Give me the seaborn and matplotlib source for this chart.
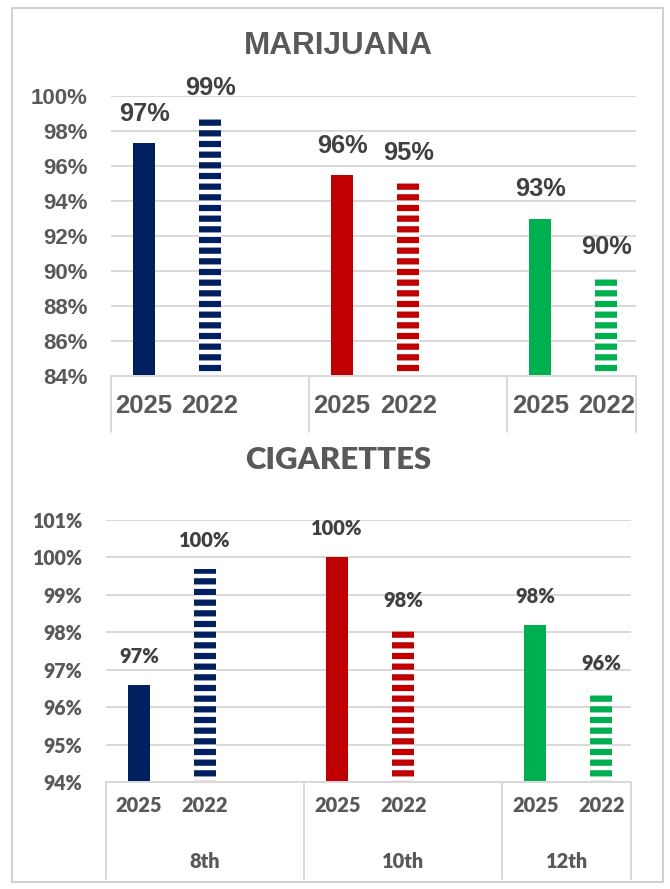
import matplotlib
matplotlib.use("Agg")
import matplotlib.pyplot as plt
import seaborn as sns
import pandas as pd
from matplotlib import font_manager
from matplotlib.patches import Rectangle

# ---------------- data ----------------
grades = ["8th", "10th", "12th"]
years = ["2025", "2022"]
marijuana_values = [97.3, 98.8, 95.5, 95.1, 93.0, 89.7]
marijuana_labels = ["97%", "99%", "96%", "95%", "93%", "90%"]
cigarettes_values = [96.6, 99.7, 100.0, 98.1, 98.2, 96.4]
cigarettes_labels = ["97%", "100%", "100%", "98%", "98%", "96%"]
grade_colors = ["#002060", "#C00000", "#00B050"]

# ---------------- style ----------------
DPI = 64
sns.set_theme(style="white")
names = {f.name for f in font_manager.fontManager.ttflist}
ARIAL = "Liberation Sans" if "Liberation Sans" in names else "DejaVu Sans"
NARROW = "Liberation Sans Narrow" if "Liberation Sans Narrow" in names else ARIAL
CALIBRI = "Lato" if "Lato" in names else ARIAL
plt.rcParams["font.family"] = [ARIAL, "DejaVu Sans"]
plt.rcParams["hatch.linewidth"] = 7.0

TXT = "#595959"
LBL = "#404040"
GRID = "#D9D9D9"
PX = 72.0 / DPI  # points per pixel

# slot layout: two bars per grade plus a gap slot
slots = []
for i, g in enumerate(grades):
    for y in years:
        slots.append(f"{g} {y}")
    if i < len(grades) - 1:
        slots.append(f"gap{i}")
bar_slots = [s for s in slots if not s.startswith("gap")]
palette = {f"{g} {y}": c for g, c in zip(grades, grade_colors) for y in years}

fig = plt.figure(figsize=(670 / DPI, 889 / DPI), dpi=DPI)
W, H = 670.0, 889.0


def make_panel(values, labels, rect, ylim, yticks, title, title_y, font, weight,
               sizes, tick_pad, xlab_pad, sep_depth, group_label_y=None,
               title_font=None, title_size=None):
    left, top_px, right_px, bottom_px = rect
    ax = fig.add_axes([left / W, 1 - bottom_px / H, (right_px - left) / W,
                       (bottom_px - top_px) / H])
    df = pd.DataFrame({"slot": bar_slots, "value": values})
    sns.barplot(data=df, x="slot", y="value", hue="slot", order=slots,
                palette=palette, width=22 / 66, saturation=1, legend=False,
                ax=ax, linewidth=0)
    ax.set_xlim(-0.5, 7.45)
    ax.set_ylim(*ylim)
    ax.set_axisbelow(True)
    ax.set_yticks(yticks)
    ax.set_yticklabels([f"{v}%" for v in yticks], fontfamily=font,
                       fontsize=sizes["ytick"], fontweight=weight, color=TXT)
    ax.yaxis.grid(True, color=GRID, lw=2 * PX)
    ax.xaxis.grid(False)
    ax.tick_params(axis="y", length=0, pad=tick_pad)
    for s in ["top", "right", "left"]:
        ax.spines[s].set_visible(False)
    ax.spines["bottom"].set_color(GRID)
    ax.spines["bottom"].set_linewidth(2 * PX)
    pos = [slots.index(s) for s in bar_slots]
    ax.set_xticks(pos)
    ax.set_xticklabels([s.split()[1] for s in bar_slots], fontfamily=font,
                       fontsize=sizes["xtick"], fontweight=weight, color=TXT)
    ax.tick_params(axis="x", length=0, pad=xlab_pad)
    ax.set_xlabel("")
    ax.set_ylabel("")

    # striped 2022 bars + data labels
    for p in ax.patches:
        idx = int(round(p.get_x() + p.get_width() / 2))
        name = slots[idx]
        col = palette[name]
        if name.endswith("2022"):
            p.set_facecolor("white")
            p.set_edgecolor(col)
            p.set_hatch("-")
            p.set_linewidth(0)
        k = bar_slots.index(name)
        ax.annotate(labels[k], (idx, values[k]), xytext=(0, 22 * PX),
                    textcoords="offset points", ha="center", va="baseline",
                    fontfamily=font, fontsize=sizes["label"], fontweight=weight,
                    color=LBL, annotation_clip=False)

    # multi-level axis separators
    trans = ax.get_xaxis_transform()
    hpx = bottom_px - top_px
    for x in [-0.5, 2.5, 5.5, 7.45]:
        ax.plot([x, x], [0, -sep_depth / hpx], transform=trans, color=GRID,
                lw=2 * PX, clip_on=False)
    if group_label_y is not None:
        centers = [1, 4, (5.5 + 7.45) / 2]
        for g, cx in zip(grades, centers):
            ax.text(cx, -group_label_y / hpx, g, transform=trans, ha="center",
                    va="center", fontfamily=font, fontsize=sizes["xtick"],
                    fontweight=weight, color=TXT)
    fig.text(338 / W, 1 - title_y / H, title, ha="center", va="center",
             fontfamily=title_font or font, fontsize=title_size,
             fontweight=weight, color=TXT)
    return ax


title_size_top = 42.5 if NARROW != ARIAL else 35.5
make_panel(marijuana_values, marijuana_labels, (111, 96, 636, 376), (84, 100),
           list(range(84, 101, 2)), "MARIJUANA", 46, ARIAL, "bold",
           {"ytick": 25, "xtick": 29, "label": 28.5}, tick_pad=23 * PX,
           xlab_pad=18 * PX, sep_depth=56, title_font=NARROW,
           title_size=title_size_top)

make_panel(cigarettes_values, cigarettes_labels, (106, 520, 631, 782), (94, 101),
           list(range(94, 102)), "CIGARETTES", 460, CALIBRI, "heavy",
           {"ytick": 22, "xtick": 22.5, "label": 22.5}, tick_pad=24 * PX,
           xlab_pad=14 * PX, sep_depth=97, group_label_y=80, title_size=35)

fig.patches.append(Rectangle((12 / W, 1 - 882 / H), 651 / W, 874 / H,
                             transform=fig.transFigure, fill=False,
                             ec="#D0D0D0", lw=2 * PX))

fig.savefig("out.png", dpi=DPI, facecolor="white")
